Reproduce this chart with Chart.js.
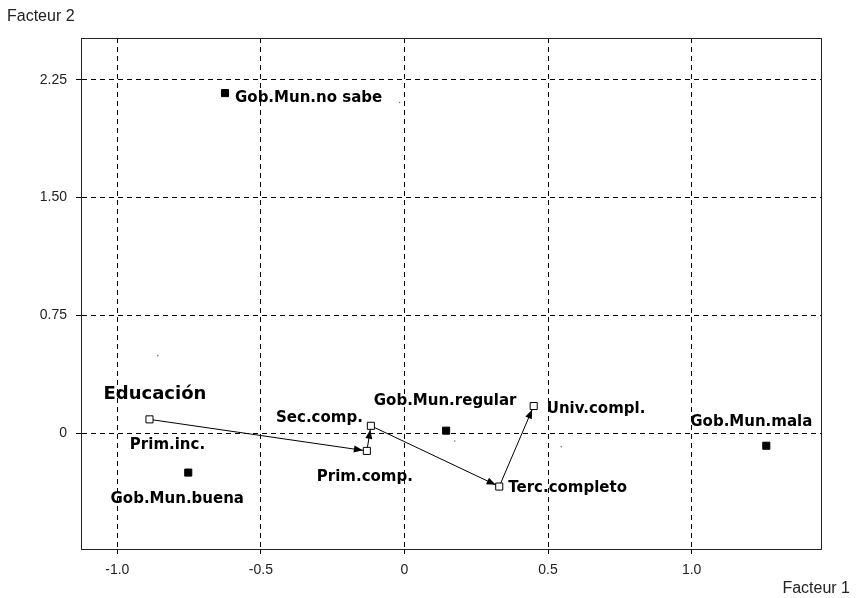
<!DOCTYPE html>
<html>
<head>
<meta charset="utf-8">
<script src="https://cdn.jsdelivr.net/npm/chart.js@4.4.1/dist/chart.umd.min.js"></script>
<style>
  body { margin: 0; background: #fff; }
  #wrap { width: 857px; height: 598px; }
</style>
</head>
<body>
<div id="wrap"><canvas id="chartAfc" width="857" height="598"></canvas></div>
<script>
// Educación (trajectory, open squares)
const educLabels = ['Prim.inc.', 'Prim.comp.', 'Sec.comp.', 'Terc.completo', 'Univ.compl.'];
const educX = [-0.888, -0.131, -0.117, 0.330, 0.450];
const educY = [0.087, -0.114, 0.046, -0.341, 0.172];

// Gobierno municipal (filled squares)
const gobLabels = ['Gob.Mun.no sabe', 'Gob.Mun.buena', 'Gob.Mun.regular', 'Gob.Mun.mala'];
const gobX = [-0.625, -0.753, 0.145, 1.260];
const gobY = [2.166, -0.252, 0.015, -0.081];

// stray unlabelled points
const otrosX = [-0.859, 0.175, 0.546, -0.017];
const otrosY = [0.493, -0.051, -0.087, 2.106];

const xTicks = [-1.0, -0.5, 0, 0.5, 1.0];
const yTicks = [0, 0.75, 1.5, 2.25];

// label placement in pixels, relative to the marker
const labelPos = {
  'Prim.inc.':       { dx: 18,  dy: 26,  align: 'center' },
  'Prim.comp.':      { dx: -2,  dy: 26,  align: 'center' },
  'Sec.comp.':       { dx: -8,  dy: -8,  align: 'right' },
  'Terc.completo':   { dx: 9,   dy: 2,   align: 'left' },
  'Univ.compl.':     { dx: 13,  dy: 3,   align: 'left' },
  'Gob.Mun.no sabe': { dx: 10,  dy: 5,   align: 'left' },
  'Gob.Mun.buena':   { dx: -11, dy: 27,  align: 'center' },
  'Gob.Mun.regular': { dx: -1,  dy: -30, align: 'center' },
  'Gob.Mun.mala':    { dx: -15, dy: -24, align: 'center' }
};

const toPts = (xs, ys) => xs.map((v, i) => ({ x: v, y: ys[i] }));

const annot = {
  id: 'annot',
  afterDatasetsDraw(chart) {
    const { ctx, chartArea: a, scales: { x, y } } = chart;
    ctx.save();

    // frame
    ctx.strokeStyle = '#222';
    ctx.lineWidth = 1;
    ctx.strokeRect(Math.round(a.left) + 0.5, Math.round(a.top) + 0.5,
      Math.round(a.right - a.left), Math.round(a.bottom - a.top));

    // arrowheads on the trajectory
    ctx.fillStyle = '#000';
    for (let i = 1; i < educX.length; i++) {
      const x0 = x.getPixelForValue(educX[i - 1]), y0 = y.getPixelForValue(educY[i - 1]);
      const x1 = x.getPixelForValue(educX[i]), y1 = y.getPixelForValue(educY[i]);
      const ang = Math.atan2(y1 - y0, x1 - x0);
      const c = Math.cos(ang), s = Math.sin(ang);
      const tx = x1 - 4 * c, ty = y1 - 4 * s;
      ctx.beginPath();
      ctx.moveTo(tx, ty);
      ctx.lineTo(tx - 9 * c - 3.5 * s, ty - 9 * s + 3.5 * c);
      ctx.lineTo(tx - 9 * c + 3.5 * s, ty - 9 * s - 3.5 * c);
      ctx.closePath();
      ctx.fill();
    }

    // point labels
    ctx.font = 'bold 15px "DejaVu Sans"';
    ctx.textBaseline = 'middle';
    const put = (names, xs, ys) => names.forEach((n, i) => {
      const p = labelPos[n];
      ctx.textAlign = p.align;
      ctx.fillText(n, x.getPixelForValue(xs[i]) + p.dx, y.getPixelForValue(ys[i]) + p.dy);
    });
    put(educLabels, educX, educY);
    put(gobLabels, gobX, gobY);

    // group title
    ctx.font = 'bold 18px "DejaVu Sans"';
    ctx.textAlign = 'left';
    ctx.fillText('Educación', x.getPixelForValue(educX[0]) - 46, y.getPixelForValue(educY[0]) - 25);

    // axis names
    ctx.font = '16px "Liberation Sans"';
    ctx.fillStyle = '#222';
    ctx.textAlign = 'left';
    ctx.fillText('Facteur 2', 7, 17);
    ctx.textAlign = 'right';
    ctx.fillText('Facteur 1', 850, 589);
    ctx.restore();
  }
};

const tickFont = { family: '"Liberation Sans"', size: 14 };

new Chart(document.getElementById('chartAfc').getContext('2d'), {
  type: 'scatter',
  data: {
    datasets: [
      {
        label: 'Educación',
        data: toPts(educX, educY),
        showLine: true,
        borderColor: '#000',
        borderWidth: 1,
        pointStyle: 'rect',
        pointRadius: 5,
        pointBackgroundColor: '#fff',
        pointBorderColor: '#000',
        pointBorderWidth: 1
      },
      {
        label: 'Gob.Mun.',
        data: toPts(gobX, gobY),
        pointStyle: 'rect',
        pointRadius: 5,
        pointBackgroundColor: '#000',
        pointBorderColor: '#000',
        pointBorderWidth: 1
      },
      {
        label: 'otros',
        data: toPts(otrosX, otrosY),
        pointRadius: 0.8,
        pointBackgroundColor: '#777',
        pointBorderWidth: 0
      }
    ]
  },
  options: {
    responsive: false,
    animation: false,
    layout: { padding: { left: 0, top: 38, right: 36, bottom: 0 } },
    plugins: {
      legend: { display: false },
      tooltip: { enabled: false }
    },
    scales: {
      x: {
        type: 'linear',
        min: -1.1265,
        max: 1.4505,
        afterBuildTicks: axis => { axis.ticks = xTicks.map(v => ({ value: v })); },
        afterFit: axis => { axis.height = 49; },
        grid: { color: '#000', lineWidth: 1, tickLength: 5, tickColor: '#000' },
        border: { display: true, color: '#222', dash: [5, 4] },
        ticks: {
          padding: 8,
          color: '#222',
          font: tickFont,
          maxRotation: 0,
          callback: v => v === 0 ? '0' : v.toFixed(1)
        }
      },
      y: {
        type: 'linear',
        min: -0.739,
        max: 2.517,
        afterBuildTicks: axis => { axis.ticks = yTicks.map(v => ({ value: v })); },
        afterFit: axis => { axis.width = 81; },
        grid: { color: '#000', lineWidth: 1, tickLength: 5, tickColor: '#000' },
        border: { display: true, color: '#222', dash: [5, 4] },
        ticks: {
          padding: 9,
          color: '#222',
          font: tickFont,
          callback: v => v === 0 ? '0' : v.toFixed(2)
        }
      }
    }
  },
  plugins: [annot]
});
</script>
</body>
</html>
